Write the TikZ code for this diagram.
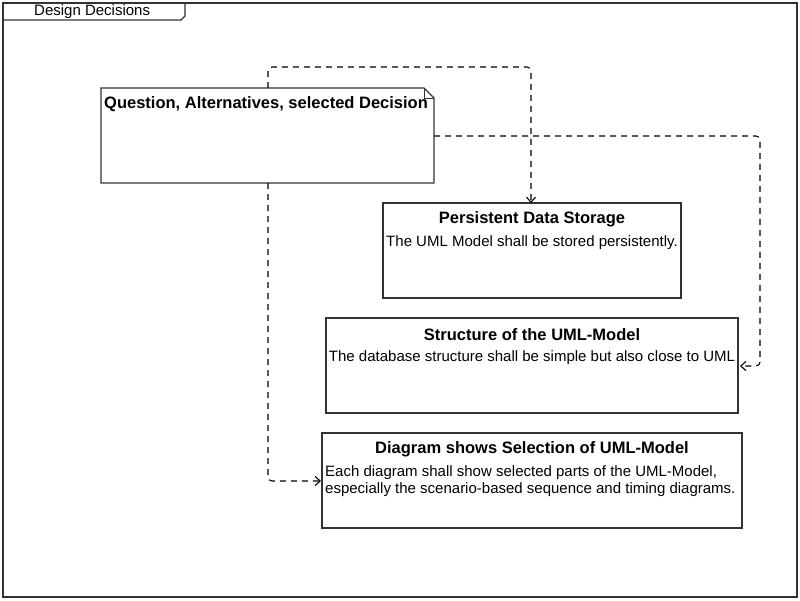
\documentclass[tikz,border=0pt]{standalone}
\usepackage{fontspec}
\setmainfont{Liberation Sans}
\usetikzlibrary{arrows.meta}
\begin{document}
\begin{tikzpicture}[x=1pt,y=-1pt,
  frame/.style={draw=black!80,line width=1.3pt},
  conn/.style={draw=black,line width=1.1pt,dash pattern=on 6pt off 5pt,rounded corners=4pt,-{Straight Barb[length=5pt,width=9pt]}},
  ttl/.style={font=\bfseries\fontsize{16.5}{19}\selectfont,inner sep=0pt},
  body/.style={font=\fontsize{15}{17}\selectfont,inner sep=0pt}]
\useasboundingbox (0,0) rectangle (800,600);
\fill[white] (0,0) rectangle (800,600);
% outer frame
\draw[frame] (3,3) rectangle (797,597);
\draw[frame] (3,20) -- (181,20) -- (185,16) -- (185,3);
\node[body,anchor=west] (frametitle) at (34,12) {Design Decisions};
% note
\draw[frame] (101,88) -- (424,88) -- (434,98) -- (434,183) -- (101,183) -- cycle;
\draw[frame,line width=0.9pt] (424,88) -- (424,98) -- (434,98);
\node[inner sep=0pt,minimum width=333pt,minimum height=95pt] (note) at (267.5,135.5) {};
\node[ttl,anchor=west] (notetitle) at (104,104.5) {Question, Alternatives, selected Decision};
% box 1
\node[frame,minimum width=298pt,minimum height=95pt,inner sep=0pt] (b1) at (532,250.5) {};
\node[ttl] (b1t) at (532,219.5) {Persistent Data Storage};
\node[body] (b1b) at (532,242.5) {The UML Model shall be stored persistently.};
% box 2
\node[frame,minimum width=412pt,minimum height=95pt,inner sep=0pt] (b2) at (532,365.5) {};
\node[ttl] (b2t) at (532,334.5) {Structure of the UML-Model};
\node[body] (b2b) at (532,357.5) {The database structure shall be simple but also close to UML};
% box 3
\node[frame,minimum width=420pt,minimum height=95pt,inner sep=0pt] (b3) at (532,480.5) {};
\node[ttl] (b3t) at (532,449.5) {Diagram shows Selection of UML-Model};
\node[body,anchor=west,align=left] (b3b) at (325,481.5) {Each diagram shall show selected parts of the UML-Model,\\especially the scenario-based sequence and timing diagrams.};
% connectors
\coordinate (n1) at (268,88);
\coordinate (n2) at (434,136);
\coordinate (n3) at (268,183);
\draw[conn] (n1) -- (268,67) -- (531,67) -- (531,203);
\draw[conn] (n2) -- (760,136) -- (760,366) -- (740,366);
\draw[conn] (n3) -- (268,481) -- (321,481);
\end{tikzpicture}
\end{document}
